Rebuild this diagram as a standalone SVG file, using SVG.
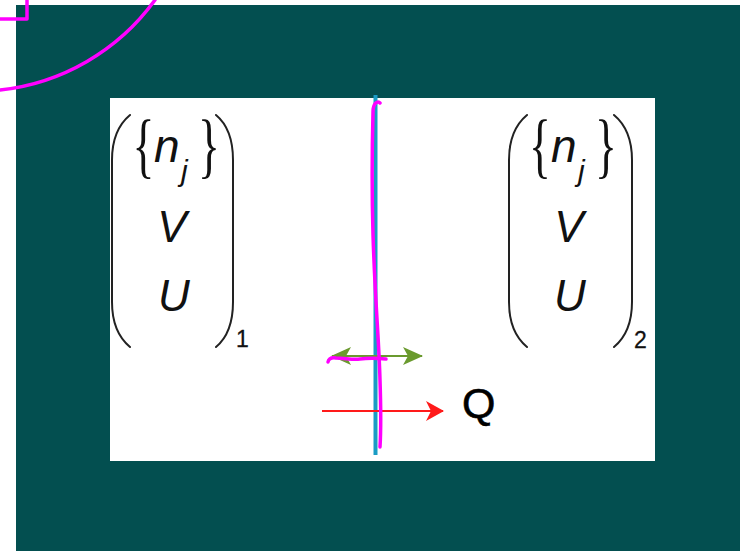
<svg xmlns="http://www.w3.org/2000/svg" width="740" height="551" viewBox="0 0 740 551">
  <defs>
    <style>
      .var { font-family: "Liberation Sans", Arial, sans-serif; font-style: italic; font-size: 46px; fill: #111; }
      .sym { font-family: "Liberation Serif", "Times New Roman", serif; font-size: 48px; fill: #111; }
      .sub { font-family: "Liberation Sans", Arial, sans-serif; font-size: 23px; fill: #111; stroke: #111; stroke-width: 0.3; }
      .paren { fill: none; stroke: #222; stroke-width: 2; stroke-linecap: round; }
      .ink { fill: none; stroke: #ff00ff; stroke-width: 3.5; stroke-linecap: round; stroke-linejoin: round; }
    </style>
    <marker id="ahGreen" markerUnits="userSpaceOnUse" viewBox="0 0 20 18" markerWidth="20" markerHeight="18" refX="19" refY="9" orient="auto-start-reverse">
      <path d="M0,0 L20,9 L0,18 L5,9 z" fill="#6a9a2e"/>
    </marker>
    <marker id="ahRed" markerUnits="userSpaceOnUse" viewBox="0 0 18 20" markerWidth="18" markerHeight="20" refX="17" refY="10" orient="auto">
      <path d="M0,0 L18,10 L0,20 L5,10 z" fill="#ff1a1a"/>
    </marker>
  </defs>

  <rect x="0" y="0" width="740" height="551" fill="#ffffff"/>
  <rect x="16" y="5" width="724" height="546" fill="#034f50"/>
  <rect x="110" y="98" width="545" height="363" fill="#ffffff"/>

  <g id="matrix1">
    <path class="paren" d="M130,115 C118,125 112,140 112,160 L112,302 C112,322 118,337 130,347"/>
    <path class="paren" d="M216,115 C228,125 233,140 233,160 L233,302 C233,322 228,337 216,347"/>
    <text class="sym" text-anchor="middle" transform="translate(143.5,168.5) scale(0.95,1.5)">{</text>
    <text class="var" x="154" y="162">n</text>
    <text class="var" x="181" y="181" style="font-size:30px">j</text>
    <text class="sym" text-anchor="middle" transform="translate(209,168.5) scale(0.95,1.5)">}</text>
    <text class="var" x="172" y="242" text-anchor="middle" style="font-size:44px">V</text>
    <text class="var" x="174" y="311" text-anchor="middle" style="font-size:44px">U</text>
    <text class="sub" x="236" y="347">1</text>
  </g>

  <g id="matrix2">
    <path class="paren" d="M527,115 C515,125 509,140 509,160 L509,302 C509,322 515,337 527,347"/>
    <path class="paren" d="M614,115 C626,125 632,140 632,160 L632,302 C632,322 626,337 614,347"/>
    <text class="sym" text-anchor="middle" transform="translate(540,168.5) scale(0.95,1.5)">{</text>
    <text class="var" x="551" y="162">n</text>
    <text class="var" x="578" y="181" style="font-size:30px">j</text>
    <text class="sym" text-anchor="middle" transform="translate(606,168.5) scale(0.95,1.5)">}</text>
    <text class="var" x="569" y="242" text-anchor="middle" style="font-size:44px">V</text>
    <text class="var" x="570" y="311" text-anchor="middle" style="font-size:44px">U</text>
    <text class="sub" x="634" y="348">2</text>
  </g>

  <g id="wall">
    <line x1="375.5" y1="95" x2="375.5" y2="455" stroke="#1a9cc4" stroke-width="4"/>
  </g>

  <g id="heat-label">
    <text x="462" y="418" style="font-family:'Liberation Sans', Arial, sans-serif; font-size:43px; fill:#000; stroke:#000; stroke-width:0.6">Q</text>
  </g>

  <g id="connectors">
    <line x1="332" y1="356" x2="422" y2="356" stroke="#6a9a2e" stroke-width="2" marker-start="url(#ahGreen)" marker-end="url(#ahGreen)"/>
    <line x1="322" y1="411" x2="443" y2="411" stroke="#ff1a1a" stroke-width="1.8" marker-end="url(#ahRed)"/>
  </g>

  <g id="annotations">
    <path class="ink" d="M27,0 L27,19 L0,19"/>
    <path class="ink" d="M0,90 A221,221 0 0 0 155,0"/>
    <path class="ink" d="M380,103 C378,100 373,103 373,112 C372,150 372,200 373,235 C375,300 379,340 380,380 C381,410 381,430 380,447"/>
    <path class="ink" d="M328,362 Q329,357 336,358 C345,358 352,360 360,359 C368,358 375,358 386,359"/>
  </g>
</svg>
